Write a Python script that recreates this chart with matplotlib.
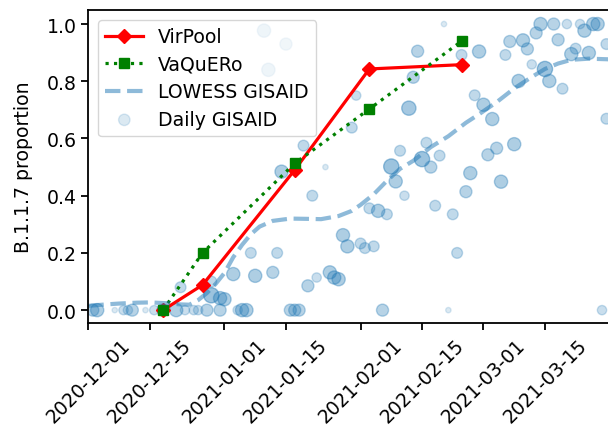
import numpy as np
import pandas as pd
import matplotlib
matplotlib.use("Agg")
import matplotlib.pyplot as plt
import matplotlib.dates as mdates

START = pd.Timestamp("2020-12-01")

# wastewater estimates
virpool_dates = ["2020-12-18", "2020-12-27", "2021-01-17", "2021-02-03", "2021-02-24"]
virpool_vals = [0.0, 0.088, 0.49, 0.843, 0.858]

vaquero_dates = ["2020-12-18", "2020-12-27", "2021-01-17", "2021-02-03", "2021-02-24"]
vaquero_vals = [0.0, 0.20, 0.513, 0.703, 0.94]

# LOWESS fit of GISAID (days since 2020-12-01)
lowess_days = [0, 4, 7, 11, 14, 18, 21, 23, 25, 27, 29, 31, 33, 35, 37, 39, 42, 46,
               50, 53, 57, 60, 62, 65, 68, 71, 74, 78, 82, 86, 89, 93, 97, 101, 104,
               107, 110, 114, 120]
lowess_vals = [0.015, 0.020, 0.023, 0.026, 0.027, 0.024, 0.020, 0.019, 0.035, 0.060,
               0.092, 0.130, 0.185, 0.228, 0.265, 0.292, 0.312, 0.320, 0.319, 0.318,
               0.329, 0.347, 0.368, 0.405, 0.452, 0.494, 0.522, 0.570, 0.608, 0.655,
               0.685, 0.727, 0.775, 0.815, 0.843, 0.862, 0.875, 0.879, 0.876]

# daily GISAID proportions (days since 2020-12-01) and number of sequences
daily_days = [6, 1, 2, 8, 9, 10, 13, 15, 17, 20, 22, 24, 25, 27, 30, 34, 35, 36,
              46, 47, 48, 67, 82, 117,
              21, 28, 28, 30, 31, 33, 37, 38, 42, 43, 44, 40, 45, 41, 49, 54, 51,
              50, 52, 55, 56, 57, 58, 59, 62, 63, 65, 64, 66, 68, 69, 70, 72, 76,
              78, 79, 71, 77, 80, 83, 84, 86, 87, 94, 61, 60, 73, 74, 75, 81, 85,
              89, 95, 96, 99, 100, 102, 103, 106, 109, 112, 113, 115, 116, 107, 111,
              110, 114, 118, 101, 104, 105, 108, 98, 88, 90, 92, 97, 93, 91, 118]
daily_vals = [0.0] * 24 + [
    0.08, 0.10, 0.052, 0.042, 0.038, 0.126, 0.20, 0.12, 0.132, 0.20, 0.484, 0.977,
    0.93, 0.84, 0.575, 0.50, 0.40, 0.085, 0.114, 0.132, 0.114, 0.108, 0.262, 0.223,
    0.233, 0.217, 0.223, 0.356, 0.347, 0.335, 0.502, 0.45, 0.40, 0.528, 0.50, 0.365,
    0.557, 0.585, 0.54, 0.335, 0.20, 0.414, 0.479, 0.449, 0.75, 0.638, 0.706, 0.814,
    0.905, 1.0, 0.892, 0.904, 0.892, 0.939, 0.943, 0.913, 0.969, 1.0, 1.0, 1.0, 1.0,
    0.977, 1.0, 1.0, 0.945, 0.914, 0.895, 0.899, 0.93, 0.859, 0.843, 0.801, 0.774,
    0.801, 0.751, 0.718, 0.668, 0.58, 0.566, 0.543, 0.669]
daily_n = [1, 5, 6, 3, 3, 5, 1, 3, 5, 6, 3, 3, 3, 5, 5, 3, 6, 6,
           5, 5, 5, 5, 1, 3,
           4, 4, 8, 6, 6, 6, 4, 6, 5, 4, 6, 6, 5, 6, 4, 1, 4,
           5, 3, 6, 6, 6, 6, 6, 4, 4, 4, 4, 6, 4, 8, 6, 3, 8,
           5, 4, 4, 4, 4, 4, 4, 5, 6, 6, 3, 4, 7, 5, 5, 1, 4,
           6, 4, 5, 6, 5, 5, 6, 5, 3, 3, 6, 6, 6, 5, 4,
           6, 6, 4, 3, 8, 6, 4, 6, 4, 6, 6, 6, 5, 5, 4]

virpool_x = pd.to_datetime(virpool_dates)
vaquero_x = pd.to_datetime(vaquero_dates)
lowess_x = START + pd.to_timedelta(lowess_days, unit="D")
daily_x = START + pd.to_timedelta(daily_days, unit="D")

n = np.array(daily_n, dtype=float)
colors = np.zeros((len(n), 4))
colors[:, :3] = matplotlib.colors.to_rgb("tab:blue")
colors[:, 3] = 0.12 + 0.04 * n

FS = 13.6

fig = plt.figure(figsize=(6.08, 4.27), dpi=100)
ax = fig.add_axes([0.1454, 0.2412, 0.8664, 0.7323])

ax.plot(virpool_x, virpool_vals, color="red", marker="D", markersize=7.5, lw=2.3,
        label="VirPool")
ax.plot(vaquero_x, vaquero_vals, color="green", marker="s", markersize=7.5, lw=2.3,
        linestyle=":", label="VaQuERo")
ax.plot(lowess_x, lowess_vals, color="tab:blue", alpha=0.5, lw=3, linestyle="--",
        label="LOWESS GISAID")
ax.scatter(daily_x, daily_vals, s=15 * n, color=colors, label="Daily GISAID")

ax.set_xlim(START, pd.Timestamp("2021-03-31"))
ax.set_ylim(-0.045, 1.048)
ax.xaxis.set_major_locator(mdates.DayLocator(bymonthday=[1, 15]))
ax.xaxis.set_major_formatter(mdates.DateFormatter("%Y-%m-%d"))
ax.tick_params(labelsize=FS, width=1.3, length=5)
for side in ax.spines.values():
    side.set_linewidth(1.3)
plt.setp(ax.get_xticklabels(), rotation=45)
ax.set_ylabel("B.1.1.7 proportion", fontsize=FS, labelpad=10)
ax.legend(loc="upper left", fontsize=FS, labelspacing=0.45)

fig.savefig("out.png", dpi=100)
